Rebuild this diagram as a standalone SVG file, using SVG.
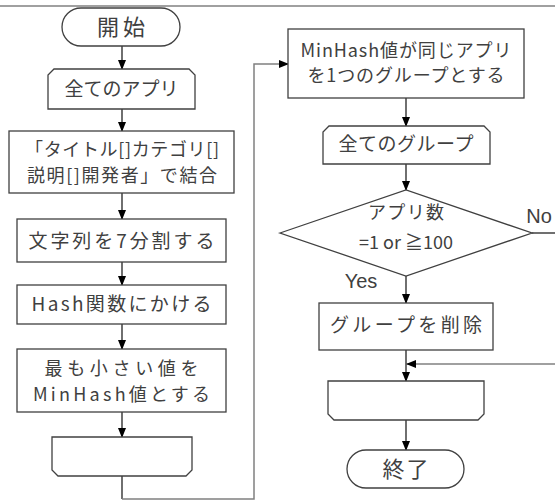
<svg xmlns="http://www.w3.org/2000/svg" width="555" height="501" viewBox="0 0 555 501">
<defs>
<style>
.n{fill:#fff;stroke:#404040;stroke-width:1.3}
.t{font-family:"Noto Sans CJK JP","Noto Sans",sans-serif;font-size:19px;fill:#404040;text-anchor:middle}
.t2{font-family:"Noto Sans CJK JP","Noto Sans",sans-serif;font-size:18px;fill:#404040;text-anchor:middle}
.tl{font-family:"Noto Sans CJK JP","Noto Sans",sans-serif;font-size:22px;fill:#404040;text-anchor:middle}
.lat{font-family:"Liberation Sans",sans-serif;font-size:20px;fill:#404040;text-anchor:middle}
.c{fill:none;stroke:#222;stroke-width:1.3}
.g{fill:none;stroke:#808080;stroke-width:1.5}
</style>
<marker id="a" markerWidth="10" markerHeight="8" refX="9" refY="4" orient="auto" markerUnits="userSpaceOnUse">
<path d="M0,0 L10,4 L0,8 Z" fill="#000"/>
</marker>
</defs>
<line x1="0" y1="6" x2="555" y2="6" class="g"/>
<g id="connectors">
<line x1="122" y1="46" x2="122" y2="69" class="c" marker-end="url(#a)"/>
<line x1="122" y1="109" x2="122" y2="131" class="c" marker-end="url(#a)"/>
<line x1="122" y1="193" x2="122" y2="219" class="c" marker-end="url(#a)"/>
<line x1="122" y1="262" x2="122" y2="285" class="c" marker-end="url(#a)"/>
<line x1="122" y1="324" x2="122" y2="349" class="c" marker-end="url(#a)"/>
<line x1="122" y1="412" x2="122" y2="437" class="c" marker-end="url(#a)"/>
<line x1="122" y1="476" x2="122" y2="499" class="c"/>
<polyline points="122,499 254,499 254,64 288,64" class="g" marker-end="url(#a)"/>
<line x1="406" y1="98" x2="406" y2="126" class="c" marker-end="url(#a)"/>
<line x1="406" y1="164" x2="406" y2="190" class="c" marker-end="url(#a)"/>
<line x1="406" y1="276" x2="406" y2="303" class="c" marker-end="url(#a)"/>
<line x1="406" y1="350" x2="406" y2="381" class="c" marker-end="url(#a)"/>
<line x1="406" y1="420" x2="406" y2="450" class="c" marker-end="url(#a)"/>
<line x1="532" y1="233" x2="555" y2="233" class="c"/>
<line x1="555" y1="364" x2="407" y2="364" class="g" marker-end="url(#a)"/>
<text x="539" y="223" class="lat">No</text>
<text x="361" y="288" class="lat">Yes</text>
</g>
<g id="start">
<rect x="62" y="8" width="118" height="38" rx="19" class="n"/>
<text x="121" y="35" class="tl" textLength="48">開始</text>
</g>
<g id="loop1">
<path d="M54,69 H189 L195,75 V109 H48 V75 Z" class="n"/>
<text x="121.5" y="96" class="t" textLength="114">全てのアプリ</text>
</g>
<g id="concat">
<rect x="9" y="131" width="225" height="62" class="n"/>
<text x="122" y="156" class="t2" textLength="194">「タイトル[]カテゴリ[]</text>
<text x="122" y="182" class="t2" textLength="190">説明[]開発者」で結合</text>
</g>
<g id="split">
<rect x="17" y="219" width="209" height="43" class="n"/>
<text x="121.5" y="248" class="t" textLength="186">文字列を7分割する</text>
</g>
<g id="hash">
<rect x="17" y="285" width="209" height="39" class="n"/>
<text x="121.5" y="311" class="t" textLength="180">Hash関数にかける</text>
</g>
<g id="min">
<rect x="17" y="349" width="209" height="63" class="n"/>
<text x="121.5" y="375" class="t2" textLength="154">最も小さい値を</text>
<text x="121.5" y="401" class="t2" textLength="177">MinHash値とする</text>
</g>
<g id="loopend1">
<path d="M52,437 H192 V470 L186,476 H58 L52,470 Z" class="n"/>
</g>
<g id="group">
<rect x="288" y="29" width="236" height="69" class="n"/>
<text x="406" y="57" class="t2" textLength="211">MinHash値が同じアプリ</text>
<text x="406" y="82" class="t2" textLength="197">を1つのグループとする</text>
</g>
<g id="loop2">
<path d="M329,126 H484 L490,132 V164 H323 V132 Z" class="n"/>
<text x="406" y="151" class="t" textLength="135">全てのグループ</text>
</g>
<g id="decision">
<polygon points="280,233 406,190 532,233 406,276" class="n"/>
<text x="406" y="219" class="t2" textLength="76">アプリ数</text>
<text x="406" y="249" class="t2" textLength="94">=1 or ≧100</text>
</g>
<g id="delete">
<rect x="319" y="303" width="174" height="47" class="n"/>
<text x="406" y="332" class="t" textLength="152">グループを削除</text>
</g>
<g id="loopend2">
<path d="M328,381 H484 V414 L478,420 H334 L328,414 Z" class="n"/>
</g>
<g id="end">
<rect x="347" y="450" width="117" height="38" rx="19" class="n"/>
<text x="405.5" y="477" class="tl" textLength="46">終了</text>
</g>
</svg>
